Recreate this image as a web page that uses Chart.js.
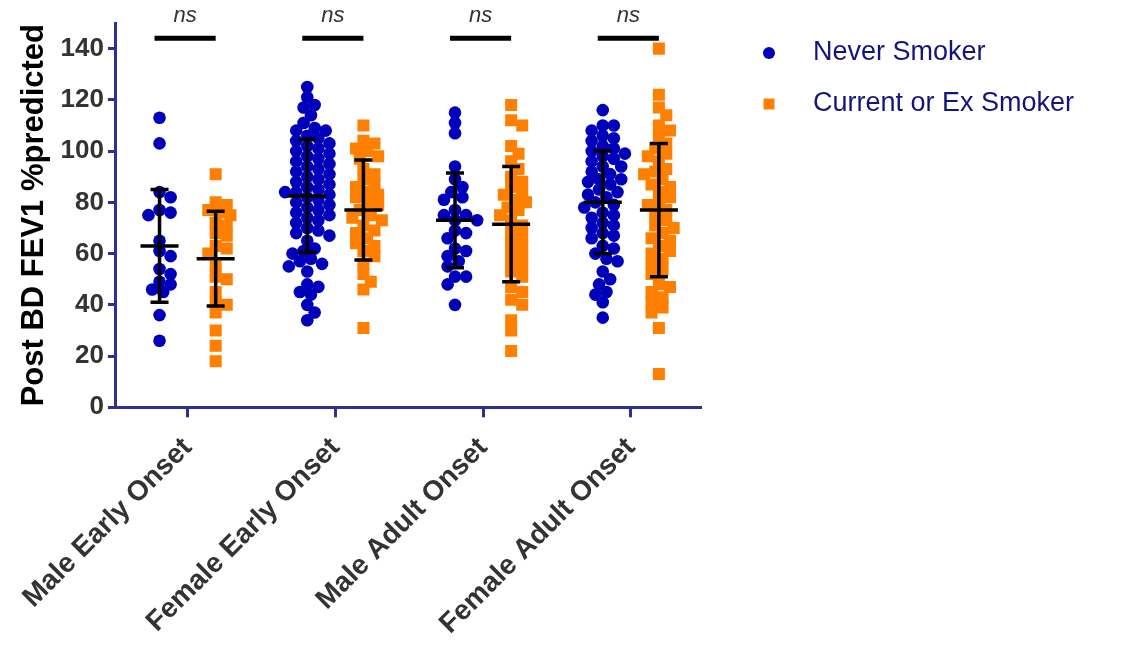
<!DOCTYPE html>
<html>
<head>
<meta charset="utf-8">
<script src="https://cdn.jsdelivr.net/npm/chart.js@4.4.1/dist/chart.umd.min.js"></script>
<style>
  html, body { margin: 0; padding: 0; background: #fff; }
  #wrap { width: 1128px; height: 646px; position: relative; }
</style>
</head>
<body>
<div id="wrap"><canvas id="chart"></canvas></div>
<script>
// values
const categories = ['Male Early Onset', 'Female Early Onset', 'Male Adult Onset', 'Female Adult Onset'];
const seriesNames = ['Never Smoker', 'Current or Ex Smoker'];

const neverMaleEarly = [113, 103, 84, 82, 77, 76, 75, 65, 61, 59, 54, 52, 49, 48, 46, 45, 36, 26];
const neverFemaleEarly = [125, 121, 118, 117, 114, 111, 109, 108, 108, 106, 105, 104, 103, 102, 101,
  100, 99, 98, 97, 96, 95, 94, 93, 92, 91, 90, 89, 88, 87, 86, 85, 84, 84, 83, 82, 81, 80, 79, 78,
  77, 76, 75, 74, 73, 72, 70, 69, 68, 67, 65, 62, 61, 60, 58, 57, 56, 55, 53, 48, 47, 45, 44, 40, 37, 34];
const neverMaleAdult = [115, 111, 107, 94, 89, 86, 84, 82, 81, 77, 75, 75, 73, 73, 69, 68, 66, 62, 61,
  59, 57, 55, 51, 51, 48, 40];
const neverFemaleAdult = [116, 110, 110, 108, 106, 105, 104, 102, 101, 100, 99, 98, 97, 96, 94, 94, 92,
  91, 89, 89, 88, 87, 85, 84, 83, 82, 80, 79, 78, 76, 75, 74, 72, 71, 70, 68, 67, 66, 63, 62, 60, 58,
  57, 53, 50, 48, 45, 44, 41, 35];

const currentMaleEarly = [91, 80, 79, 77, 76, 75, 72, 71, 68, 67, 63, 62, 60, 55, 51, 50, 45, 41, 40,
  37, 30, 24, 18];
const currentFemaleEarly = [110, 104, 103, 101, 100, 98, 97, 93, 91, 89, 87, 86, 84, 83, 82, 80, 79, 77,
  75, 74, 73, 71, 69, 68, 66, 64, 63, 61, 59, 56, 52, 49, 46, 31];
const currentMaleAdult = [118, 112, 110, 102, 99, 96, 93, 90, 88, 86, 84, 83, 81, 80, 78, 77, 75, 73, 71,
  69, 67, 65, 63, 61, 59, 57, 55, 53, 51, 47, 45, 42, 40, 34, 30, 22];
const currentFemaleAdult = [140, 122, 117, 114, 110, 108, 106, 103, 101, 99, 98, 96, 93, 92, 91, 89, 87,
  86, 84, 82, 80, 79, 77, 75, 73, 71, 70, 68, 66, 65, 63, 61, 60, 58, 56, 54, 52, 48, 47, 45, 43, 41,
  39, 37, 31, 13];

// mean +/- SD bars as drawn
const neverMean = [63, 82.5, 73, 80];
const neverSD = [22, 22, 18.5, 20];
const currentMean = [58, 77, 71.5, 77];
const currentSD = [18.5, 19.5, 22.5, 26];

const sigLabels = ['ns', 'ns', 'ns', 'ns'];
const yTicks = [0, 20, 40, 60, 80, 100, 120, 140];

const never = [neverMaleEarly, neverFemaleEarly, neverMaleAdult, neverFemaleAdult];
const current = [currentMaleEarly, currentFemaleEarly, currentMaleAdult, currentFemaleAdult];

const BLUE = '#0000bb';
const ORANGE = '#ff8000';
const AXIS = '#2e3192';
const FONT = "'Liberation Sans', Arial, sans-serif";
const OFFSET = 0.19;     // column offset from category centre
const SIG_Y = 144;       // height of the ns bars

// simple beeswarm so points don't sit right on top of each other
function swarm(values, centre) {
  const xPx = 149, yPx = 2.56, gap = 9.5, step = 0.025;
  const placed = [];
  values.slice().sort((a, b) => b - a).forEach(v => {
    for (let k = 0; k < 60; k++) {
      const off = (k % 2 ? 1 : -1) * Math.ceil(k / 2) * step;
      const ok = placed.every(p => Math.hypot((p.x - centre - off) * xPx, (p.y - v) * yPx) >= gap);
      if (ok) { placed.push({ x: centre + off, y: v }); return; }
    }
  });
  return placed;
}

const overlay = {
  id: 'overlay',
  afterDatasetsDraw(chart) {
    const { ctx, scales: { x, y }, chartArea } = chart;
    ctx.save();
    ctx.strokeStyle = '#000';
    ctx.lineWidth = 3.5;
    [[neverMean, neverSD, -OFFSET], [currentMean, currentSD, OFFSET]].forEach(([m, s, off]) => {
      m.forEach((mean, i) => {
        const cx = x.getPixelForValue(i + 1 + off);
        const top = y.getPixelForValue(mean + s[i]);
        const bot = y.getPixelForValue(mean - s[i]);
        const mid = y.getPixelForValue(mean);
        ctx.beginPath();
        ctx.moveTo(cx, top); ctx.lineTo(cx, bot);
        ctx.moveTo(cx - 9, top); ctx.lineTo(cx + 9, top);
        ctx.moveTo(cx - 9, bot); ctx.lineTo(cx + 9, bot);
        ctx.moveTo(cx - 19, mid); ctx.lineTo(cx + 19, mid);
        ctx.stroke();
      });
    });

    // significance bars
    ctx.lineWidth = 5;
    ctx.fillStyle = '#333';
    ctx.font = 'italic 22px ' + FONT;
    ctx.textAlign = 'center';
    ctx.textBaseline = 'middle';
    sigLabels.forEach((lab, i) => {
      const x0 = x.getPixelForValue(i + 1 - OFFSET) - 5;
      const x1 = x.getPixelForValue(i + 1 + OFFSET);
      const yy = y.getPixelForValue(SIG_Y);
      ctx.beginPath();
      ctx.moveTo(x0, yy); ctx.lineTo(x1, yy);
      ctx.stroke();
      ctx.fillText(lab, (x0 + x1) / 2, yy - 22);
    });

    // legend
    const lx = chartArea.right + 68;
    const ly = chartArea.top + 30;
    ctx.font = '27px ' + FONT;
    ctx.textAlign = 'left';
    chart.data.datasets.forEach((ds, i) => {
      const cy = ly + i * 51;
      ctx.fillStyle = ds.backgroundColor;
      ctx.beginPath();
      if (ds.pointStyle === 'circle') ctx.arc(lx, cy, 6, 0, Math.PI * 2);
      else ctx.rect(lx - 5.5, cy - 5.5, 11, 11);
      ctx.fill();
      ctx.fillStyle = '#14147a';
      ctx.fillText(ds.label, lx + 44, cy);
    });
    ctx.restore();
  }
};

new Chart(document.getElementById('chart'), {
  type: 'scatter',
  data: {
    datasets: [
      {
        label: seriesNames[0],
        data: never.flatMap((vals, i) => swarm(vals, i + 1 - OFFSET)),
        backgroundColor: BLUE,
        borderWidth: 0,
        pointStyle: 'circle',
        pointRadius: 6.3
      },
      {
        label: seriesNames[1],
        data: current.flatMap((vals, i) => swarm(vals, i + 1 + OFFSET)),
        backgroundColor: ORANGE,
        borderWidth: 0,
        pointStyle: 'rect',
        pointRadius: 8.5
      }
    ]
  },
  options: {
    responsive: true,
    maintainAspectRatio: false,
    animation: false,
    layout: { padding: { left: 10, right: 427, top: 23, bottom: -9 } },
    plugins: {
      legend: { display: false },
      tooltip: { enabled: false }
    },
    scales: {
      x: {
        type: 'linear',
        min: 0.515,
        max: 4.475,
        afterBuildTicks: s => { s.ticks = categories.map((c, i) => ({ value: i + 1 })); },
        ticks: {
          callback: v => categories[v - 1],
          autoSkip: false,
          minRotation: 45,
          maxRotation: 45,
          padding: 14,
          color: '#333',
          font: { family: FONT, size: 28, weight: 'bold' }
        },
        grid: { drawOnChartArea: false, color: AXIS, tickLength: 10, tickWidth: 3 },
        border: { color: AXIS, width: 3 }
      },
      y: {
        min: 0,
        max: 150,
        afterBuildTicks: s => { s.ticks = yTicks.map(v => ({ value: v })); },
        ticks: {
          padding: 4,
          color: '#333',
          font: { family: FONT, size: 26, weight: 'bold' }
        },
        title: {
          display: true,
          text: 'Post BD FEV1 %predicted',
          color: '#000',
          padding: 4,
          font: { family: FONT, size: 31, weight: 'bold' }
        },
        grid: { drawOnChartArea: false, color: AXIS, tickLength: 8, tickWidth: 3 },
        border: { color: AXIS, width: 3 }
      }
    }
  },
  plugins: [overlay]
});
</script>
</body>
</html>
